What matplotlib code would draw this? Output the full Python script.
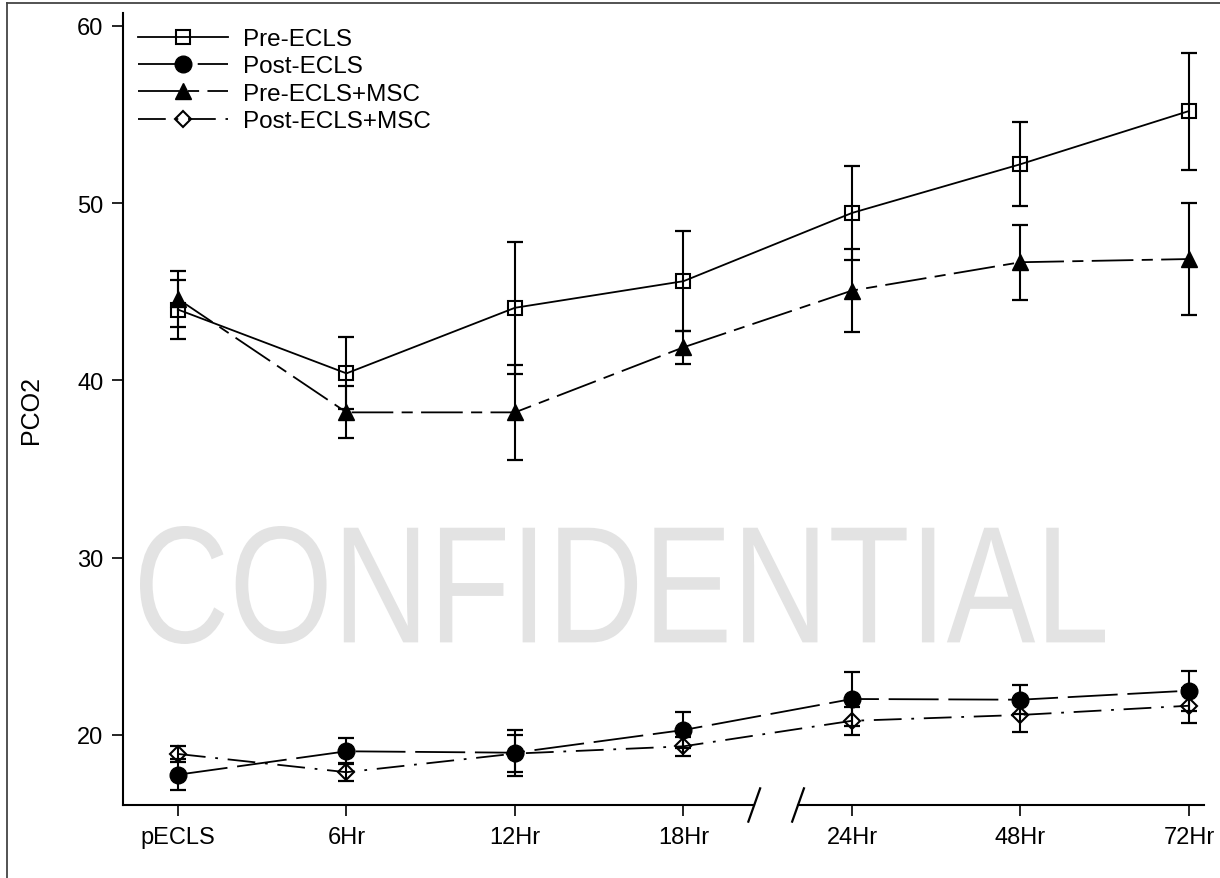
import numpy as np
import matplotlib
matplotlib.use("Agg")
import matplotlib.pyplot as plt
from matplotlib.lines import Line2D
from matplotlib.textpath import TextPath
from matplotlib.patches import PathPatch
from matplotlib.font_manager import FontProperties
from matplotlib.transforms import Affine2D

plt.rcParams['font.family'] = ['Liberation Sans', 'DejaVu Sans']
plt.rcParams['lines.scale_dashes'] = False

# data
times = ['pECLS', '6Hr', '12Hr', '18Hr', '24Hr', '48Hr', '72Hr']
pre_ecls = [44.0, 40.4, 44.1, 45.6, 49.45, 52.2, 55.2]
pre_ecls_err = [1.67, 2.03, 3.73, 2.82, 2.63, 2.36, 3.3]
post_ecls = [17.76, 19.08, 19.0, 20.28, 22.03, 21.99, 22.5]
post_ecls_err = [0.88, 0.73, 1.3, 1.03, 1.5, 0.83, 1.13]
pre_msc = [44.6, 38.2, 38.2, 41.87, 45.07, 46.67, 46.85]
pre_msc_err = [1.56, 1.46, 2.67, 0.94, 2.35, 2.12, 3.17]
post_msc = [18.93, 17.9, 18.95, 19.36, 20.8, 21.13, 21.65]
post_msc_err = [0.43, 0.5, 1.05, 0.52, 0.78, 0.94, 1.0]
yticks = [20, 30, 40, 50, 60]

W, H = 1220, 879
fig = plt.figure(figsize=(W / 100, H / 100), dpi=100)
ax = fig.add_axes([123 / W, (H - 806) / H, (1204 - 123) / W, (806 - 14) / H])

x = np.arange(len(times))

series = [
    ('Pre-ECLS', pre_ecls, pre_ecls_err, dict(marker='s', ms=10, mfc='none', mew=1.5), None),
    ('Post-ECLS', post_ecls, post_ecls_err, dict(marker='o', ms=12, mfc='black'), (36, 7)),
    ('Pre-ECLS+MSC', pre_msc, pre_msc_err, dict(marker='^', ms=11, mfc='black'), (30, 6, 8, 6)),
    ('Post-ECLS+MSC', post_msc, post_msc_err, dict(marker='D', ms=8.5, mfc='none', mew=1.5), (20, 7, 2, 7)),
]

handles = []
for name, vals, errs, mk, dash in series:
    ax.errorbar(x, vals, yerr=errs, fmt='none', ecolor='black', elinewidth=1.5,
                capsize=6, capthick=1.6, zorder=3)
    ln, = ax.plot(x, vals, color='black', lw=1.3, mec='black', label=name, zorder=4, **mk)
    if dash is not None:
        ln.set_dashes(dash)
    handles.append(ln)

ax.set_xlim(-0.326, 6.089)
ax.set_ylim(16.05, 60.73)
ax.set_xticks(x)
ax.set_xticklabels(times)
ax.set_yticks(yticks)
ax.tick_params(axis='both', direction='out', length=8, width=1.2, labelsize=17, color='black')
ax.tick_params(axis='x', pad=7)
ax.tick_params(axis='y', pad=6)

for s in ['top', 'right', 'bottom']:
    ax.spines[s].set_visible(False)
ax.spines['left'].set_linewidth(1.5)

# broken x axis between 18Hr and 24Hr
tr = ax.get_xaxis_transform()
ax.plot([-0.326, 3.42], [0, 0], color='black', lw=1.5, transform=tr, clip_on=False)
ax.plot([3.68, 6.089], [0, 0], color='black', lw=1.5, transform=tr, clip_on=False)
for bx in [3.42, 3.68]:
    ax.plot([bx - 0.035, bx + 0.035], [-0.021, 0.021], color='black', lw=1.6,
            transform=tr, clip_on=False)

ax.set_ylabel('PCO2', fontsize=18)
ax.yaxis.set_label_coords(-0.074, 0.5)

leg = ax.legend(handles=handles, loc='upper left', bbox_to_anchor=(0.0139, 0.981),
                frameon=False, fontsize=17.5, handlelength=3.7, handletextpad=0.6,
                labelspacing=0.22, borderpad=0, borderaxespad=0, numpoints=1)

# watermark
tp = TextPath((0, 0), 'CONFIDENTIAL', size=1, prop=FontProperties(family='Liberation Sans'))
ext = tp.get_extents()
bx0, bx1, by_top, by_bot = 140, 1105, 527, 645
sx = (bx1 - bx0) / ext.width
sy = (by_bot - by_top) / ext.height
t = Affine2D().translate(-ext.x0, -ext.y0).scale(sx / W, sy / H).translate(bx0 / W, (H - by_bot) / H)
fig.patches.append(PathPatch(tp, transform=t + fig.transFigure, facecolor='#e3e3e3',
                             edgecolor='none', zorder=0))

# outer frame (top and left edges)
fig.add_artist(Line2D([7 / W, 1], [1 - 4 / H, 1 - 4 / H], transform=fig.transFigure,
                      color='#444444', lw=1.3))
fig.add_artist(Line2D([7 / W, 7 / W], [0, 1 - 4 / H], transform=fig.transFigure,
                      color='#444444', lw=1.3))

ax.patch.set_alpha(0)
fig.savefig('out.png', dpi=100)
